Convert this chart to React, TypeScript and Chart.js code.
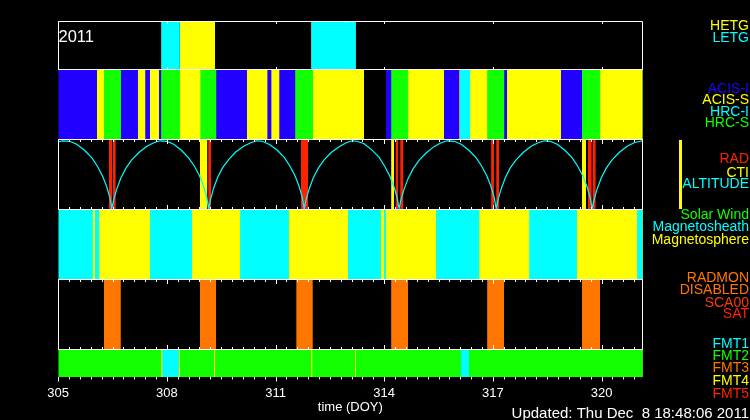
import React, { useEffect, useRef } from 'react';
import { Chart, registerables } from 'chart.js';

Chart.register(...registerables);

// ---------- axis ----------
const X_MIN = 305;
const X_MAX = 321.13;
const TICK_DOY = [305, 308, 311, 314, 317, 320];
const MINOR_STEP = 0.3;
const X_TITLE = 'time (DOY)';
const YEAR_LABEL = '2011';
const UPDATED_LABEL = 'Updated: Thu Dec  8 18:48:06 2011';

// ---------- panel 1: gratings ----------
const GRATING_START = [307.84, 308.36, 311.98];
const GRATING_END = [308.36, 309.33, 313.22];
const GRATING_STATE = ['LETG', 'HETG', 'LETG'];

// ---------- panel 2: instrument (contiguous; '' = no data) ----------
const INST_EDGES = [305.0, 306.07, 306.26, 306.73, 307.2, 307.4, 307.53, 307.78, 307.84, 308.36, 308.92, 309.36, 310.21, 310.77, 310.88, 311.1, 311.54, 312.03, 313.44, 314.05, 314.19, 314.66, 315.65, 316.07, 316.09, 316.37, 316.84, 317.31, 317.39, 318.88, 319.46, 319.96, 321.13];
const INST_STATE = ['ACIS-I', 'ACIS-S', 'HRC-S', 'ACIS-I', 'ACIS-S', 'ACIS-I', 'ACIS-S', 'ACIS-I', 'HRC-S', 'ACIS-S', 'HRC-S', 'ACIS-I', 'ACIS-S', 'ACIS-I', 'ACIS-S', 'ACIS-I', 'HRC-S', 'ACIS-S', '', 'ACIS-I', 'HRC-S', 'ACIS-S', 'ACIS-I', 'ACIS-S', 'HRC-I', 'ACIS-S', 'HRC-S', 'ACIS-I', 'ACIS-S', 'ACIS-I', 'HRC-S', 'ACIS-S'];

// ---------- panel 3: radiation / CTI / altitude ----------
const RAD_START = [306.40, 306.51, 309.14, 311.70, 314.31, 314.44, 316.95, 317.09, 319.62, 319.75];
const RAD_END = [306.49, 306.59, 309.22, 311.90, 314.39, 314.53, 317.03, 317.17, 319.73, 319.84];
const CTI_START = [308.91, 314.19, 319.46];
const CTI_END = [309.12, 314.27, 319.57];

const ALT_DOY = [
  305.00, 305.13, 305.32, 305.51, 305.735, 305.93, 306.09, 306.23, 306.34, 306.425, 306.48,
  306.535, 306.62, 306.73, 306.87, 307.03, 307.225, 307.45, 307.64, 307.805,
  307.995, 308.19, 308.41, 308.60, 308.77, 308.91, 309.02, 309.10, 309.155,
  309.21, 309.29, 309.40, 309.54, 309.71, 309.90, 310.12, 310.315, 310.48,
  310.63, 310.82, 311.045, 311.24, 311.40, 311.54, 311.65, 311.735, 311.79,
  311.845, 311.93, 312.04, 312.18, 312.34, 312.535, 312.755, 312.95, 313.115,
  313.25, 313.445, 313.665, 313.86, 314.02, 314.16, 314.27, 314.355, 314.41,
  314.465, 314.55, 314.66, 314.80, 314.96, 315.155, 315.375, 315.57, 315.735,
  315.93, 316.125, 316.345, 316.54, 316.70, 316.84, 316.95, 317.035, 317.09,
  317.145, 317.23, 317.34, 317.475, 317.64, 317.835, 318.055, 318.25, 318.415,
  318.58, 318.775, 318.995, 319.19, 319.35, 319.49, 319.60, 319.685, 319.74,
  319.795, 319.88, 319.99, 320.13, 320.29, 320.485, 320.705, 320.90, 321.065, 321.13,
];
const ALT_KKM = [
  138, 140, 139, 133, 120, 105, 87, 67, 46, 24, 1,
  20, 42, 64, 84, 101, 116, 129, 136, 140,
  139, 133, 120, 105, 87, 67, 46, 24, 1,
  21, 43, 65, 85, 102, 117, 129, 136, 140,
  139, 133, 121, 106, 88, 68, 47, 25, 1,
  20, 42, 64, 84, 101, 116, 128, 136, 140,
  139, 134, 121, 106, 87, 67, 46, 24, 1,
  20, 41, 63, 83, 100, 115, 128, 136, 140,
  139, 133, 120, 105, 87, 67, 46, 24, 1,
  20, 42, 64, 84, 101, 116, 129, 136, 140,
  139, 133, 120, 105, 87, 67, 46, 24, 1,
  20, 42, 64, 84, 101, 116, 129, 136, 139, 140,
];

// ---------- panel 4: region ----------
const REGION_EDGES = [305.0, 305.95, 306.01, 306.13, 307.53, 308.69, 310.02, 311.37, 313.0, 313.91, 313.99, 314.04, 315.43, 316.62, 318.0, 319.32, 320.98, 321.13];
const REGION_STATE = ['Magnetosheath', 'Magnetosphere', 'Magnetosheath', 'Magnetosphere', 'Magnetosheath', 'Magnetosphere', 'Magnetosheath', 'Magnetosphere', 'Magnetosheath', 'Magnetosphere', 'Magnetosheath', 'Magnetosphere', 'Magnetosheath', 'Magnetosphere', 'Magnetosheath', 'Magnetosphere', 'Magnetosheath'];

// ---------- panel 5: RADMON disabled ----------
const RADMON_START = [306.26, 308.91, 311.57, 314.19, 316.84, 319.46];
const RADMON_END = [306.73, 309.36, 312.03, 314.66, 317.31, 319.96];

// ---------- panel 6: telemetry format ----------
const FMT_EDGES = [305.0, 307.84, 307.87, 308.33, 308.36, 309.30, 309.33, 311.98, 312.01, 313.19, 313.22, 316.11, 316.34, 321.13];
const FMT_STATE = ['FMT2', 'FMT4', 'FMT1', 'FMT4', 'FMT2', 'FMT4', 'FMT2', 'FMT4', 'FMT2', 'FMT4', 'FMT2', 'FMT1', 'FMT2'];

// ---------- styles ----------
const YELLOW = '#ffff00';
const CYAN = '#00ffff';
const BLUE = '#2200ff';
const GREEN = '#11ff00';
const RED = '#ff2200';
const ORANGE = '#ff7700';
const COLOR: Record<string, string> = {
  HETG: YELLOW, LETG: CYAN,
  'ACIS-I': BLUE, 'ACIS-S': YELLOW, 'HRC-I': CYAN, 'HRC-S': GREEN,
  RAD: RED, CTI: YELLOW, ALTITUDE: CYAN,
  'Solar Wind': GREEN, Magnetosheath: CYAN, Magnetosphere: YELLOW,
  RADMON: ORANGE, DISABLED: ORANGE, SCA00: '#ff3a00', SAT: RED,
  FMT1: CYAN, FMT2: GREEN, FMT3: ORANGE, FMT4: YELLOW, FMT5: RED,
};

const LEGEND: [string, number][] = [
  ['HETG', 30], ['LETG', 41.7],
  ['ACIS-I', 92.7], ['ACIS-S', 104.3], ['HRC-I', 115.8], ['HRC-S', 126.7],
  ['RAD', 163], ['CTI', 176.5], ['ALTITUDE', 188.2],
  ['Solar Wind', 219], ['Magnetosheath', 231], ['Magnetosphere', 243.5],
  ['RADMON', 281.7], ['DISABLED', 294], ['SCA00', 306.7], ['SAT', 318],
  ['FMT1', 348], ['FMT2', 360], ['FMT3', 371.7], ['FMT4', 385], ['FMT5', 397.5],
];

const FONT = 'Liberation Sans';
const CA_TOP = 21;
const CA_BOTTOM = 377;
const BANDS: Record<string, [number, number]> = {
  p1: [21.5, 69.5],
  p2: [69.5, 139.5],
  p3: [139.5, 209.5],
  p4: [209.5, 279.5],
  p5: [279.5, 349.5],
  p6: [349.5, 377],
};

function bandScale(top: number, bottom: number, lo: number, hi: number) {
  const upp = (hi - lo) / (bottom - top);
  return {
    type: 'linear' as const,
    display: false,
    min: lo - (CA_BOTTOM - bottom) * upp,
    max: hi + (top - CA_TOP) * upp,
  };
}

function seg(x0: number, x1: number, axis: string, color: string) {
  return {
    data: [{ x: x0, y: 1 }, { x: x1, y: 1 }],
    yAxisID: axis,
    backgroundColor: color,
    borderColor: color,
    borderWidth: 0,
    pointRadius: 0,
    pointHoverRadius: 0,
    fill: { value: 0 },
    tension: 0,
  };
}

// contiguous strip: each state fills from its start onward, later states drawn over earlier
// ones, so adjacent colours meet without anti-aliasing seams
function strip(out: any[], edges: number[], states: string[], axis: string) {
  const end = edges[edges.length - 1];
  for (let i = states.length - 1; i >= 0; i--) {
    const s = states[i];
    out.push(seg(edges[i], end, axis, s ? COLOR[s] : '#000000'));
  }
}

const decor = {
  id: 'decor',
  afterDraw(chart: any) {
    const { ctx, chartArea: ca, scales } = chart;
    const x = scales.x;
    const L = Math.round(ca.left) + 0.5;
    const R = Math.floor(ca.right) + 0.5;
    const px = (v: number) => Math.round(x.getPixelForValue(v)) + 0.5;
    const nMinor = Math.floor((X_MAX - X_MIN) / MINOR_STEP + 1e-6);
    const ticks: { p: number; major: boolean }[] = [];
    for (let i = 0; i <= nMinor; i++) {
      const v = X_MIN + i * MINOR_STEP;
      const major = TICK_DOY.some((t) => Math.abs(t - v) < 1e-6);
      ticks.push({ p: px(v), major });
    }
    ctx.save();
    ctx.strokeStyle = '#ffffff';
    ctx.lineWidth = 1;
    ctx.beginPath();
    {
      const [t, b] = BANDS.p1;
      ctx.rect(L, t, R - L, b - t);
      ticks.forEach(({ p, major }) => {
        if (!major) return;
        ctx.moveTo(p, t); ctx.lineTo(p, t + 2.5);
        ctx.moveTo(p, b); ctx.lineTo(p, b - 2.5);
      });
    }
    ['p3', 'p5'].forEach((id) => {
      const [t, b] = BANDS[id];
      ctx.rect(L, t, R - L, b - t);
      ticks.forEach(({ p, major }) => {
        const len = major ? 4.5 : 2.5;
        ctx.moveTo(p, t); ctx.lineTo(p, t + len);
        ctx.moveTo(p, b); ctx.lineTo(p, b - len);
      });
    });
    ticks.forEach(({ p, major }) => {
      ctx.moveTo(p, CA_BOTTOM); ctx.lineTo(p, CA_BOTTOM + (major ? 4.5 : 2.5));
    });
    ctx.stroke();

    ctx.fillStyle = '#ffffff';
    ctx.font = `16.5px "${FONT}"`;
    ctx.textAlign = 'left';
    ctx.textBaseline = 'alphabetic';
    ctx.fillText(YEAR_LABEL, 58.5, 42.3);

    ctx.font = `14px "${FONT}"`;
    ctx.textAlign = 'right';
    LEGEND.forEach(([label, y]) => {
      ctx.fillStyle = COLOR[label];
      ctx.fillText(label, 749, y);
    });
    ctx.fillStyle = YELLOW;
    ctx.fillRect(679, 140, 3, 69);

    ctx.fillStyle = '#ffffff';
    ctx.font = `15px "${FONT}"`;
    ctx.fillText(UPDATED_LABEL, 749, 418);
    ctx.restore();
  },
};

export default function App() {
  const ref = useRef<HTMLCanvasElement>(null);

  useEffect(() => {
    const canvas = ref.current;
    if (!canvas) return;
    const datasets: any[] = [];
    datasets.push({
      data: ALT_DOY.map((d, i) => ({ x: d, y: ALT_KKM[i] })),
      yAxisID: 'alt',
      borderColor: COLOR.ALTITUDE,
      backgroundColor: COLOR.ALTITUDE,
      borderWidth: 1.2,
      pointRadius: 0,
      pointHoverRadius: 0,
      fill: false,
      tension: 0,
    });
    GRATING_STATE.forEach((s, i) => datasets.push(seg(GRATING_START[i], GRATING_END[i], 'p1', COLOR[s])));
    strip(datasets, INST_EDGES, INST_STATE, 'p2');
    RAD_START.forEach((s, i) => datasets.push(seg(s, RAD_END[i], 'p3', COLOR.RAD)));
    CTI_START.forEach((s, i) => datasets.push(seg(s, CTI_END[i], 'p3', COLOR.CTI)));
    strip(datasets, REGION_EDGES, REGION_STATE, 'p4');
    RADMON_START.forEach((s, i) => datasets.push(seg(s, RADMON_END[i], 'p5', COLOR.RADMON)));
    strip(datasets, FMT_EDGES, FMT_STATE, 'p6');

    const chart = new Chart(canvas, {
      type: 'line',
      data: { datasets },
      options: {
        animation: false,
        responsive: false,
        devicePixelRatio: 1,
        events: [],
        layout: { padding: { left: 58.2, right: 107.5, top: CA_TOP, bottom: 0 } },
        plugins: { legend: { display: false }, tooltip: { enabled: false } },
        scales: {
          x: {
            type: 'linear',
            min: X_MIN,
            max: X_MAX,
            afterBuildTicks: (axis: any) => {
              axis.ticks = TICK_DOY.map((v) => ({ value: v }));
            },
            afterFit: (axis: any) => {
              axis.height = 420 - CA_BOTTOM;
            },
            grid: { display: false, drawTicks: false },
            border: { display: false },
            ticks: {
              color: '#ffffff',
              font: { family: FONT, size: 13 },
              padding: 8.5,
              maxRotation: 0,
              autoSkip: false,
            },
            title: {
              display: true,
              text: X_TITLE,
              color: '#ffffff',
              font: { family: FONT, size: 13 },
              padding: { top: 0, bottom: 4.7 },
            },
          },
          p1: bandScale(BANDS.p1[0], BANDS.p1[1], 0, 1),
          p2: bandScale(BANDS.p2[0], BANDS.p2[1], 0, 1),
          p3: bandScale(BANDS.p3[0], BANDS.p3[1], 0, 1),
          alt: bandScale(BANDS.p3[0] + 0.8, BANDS.p3[1] - 0.3, 0, 141),
          p4: bandScale(BANDS.p4[0], BANDS.p4[1], 0, 1),
          p5: bandScale(BANDS.p5[0], BANDS.p5[1], 0, 1),
          p6: bandScale(BANDS.p6[0], BANDS.p6[1], 0, 1),
        } as any,
      },
      plugins: [decor],
    });
    return () => chart.destroy();
  }, []);

  return (
    <div style={{ position: 'absolute', left: 0, top: 0, width: 750, height: 420, background: '#000' }}>
      <canvas ref={ref} width={750} height={420} style={{ display: 'block' }} />
    </div>
  );
}
